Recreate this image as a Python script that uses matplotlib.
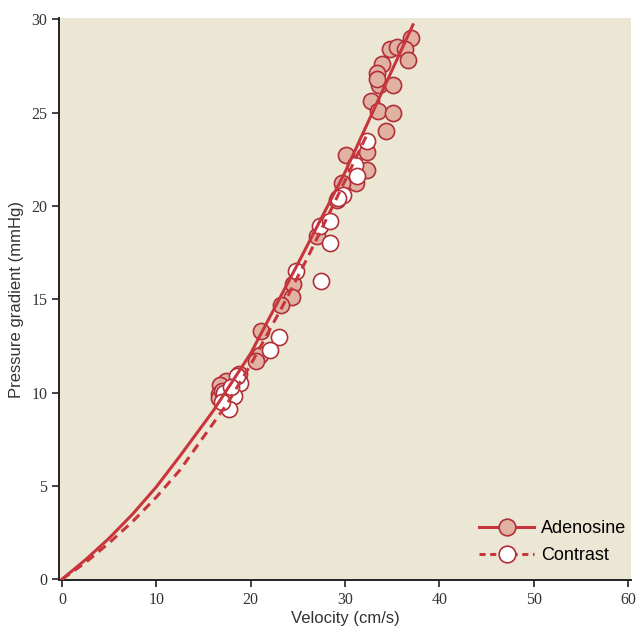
import matplotlib
matplotlib.use("Agg")
import matplotlib.pyplot as plt
from matplotlib.lines import Line2D

# adenosine measurements (velocity cm/s, gradient mmHg)
aden_v = [37.0, 34.8, 35.5, 36.4, 33.9, 33.4, 36.7, 33.6, 35.1, 32.8, 33.5, 35.1,
          34.3, 32.3, 30.1, 32.3, 31.2, 29.7, 29.2, 27.0, 24.5, 24.4, 23.2, 21.1,
          21.0, 20.6, 18.8, 17.4, 16.8, 16.6, 16.6, 33.4, 17.0]
aden_g = [29.0, 28.4, 28.5, 28.4, 27.6, 27.1, 27.8, 26.5, 26.5, 25.6, 25.1, 25.0,
          24.0, 22.9, 22.7, 21.9, 21.2, 21.2, 20.3, 18.4, 15.8, 15.1, 14.7, 13.3,
          12.0, 11.7, 11.0, 10.6, 10.4, 9.9, 9.7, 26.8, 10.1]

# contrast measurements
cont_v = [32.3, 31.1, 31.3, 29.8, 29.3, 27.4, 28.4, 28.4, 27.5, 24.8, 23.0, 22.1,
          18.9, 18.5, 18.2, 17.7, 17.2, 17.0, 17.9]
cont_g = [23.5, 22.2, 21.6, 20.6, 20.4, 18.9, 19.2, 18.0, 16.0, 16.5, 13.0, 12.3,
          10.5, 10.9, 9.8, 9.1, 10.0, 9.5, 10.3]

# fitted curves
fit_aden_v = [0, 2.5, 5, 7.5, 10, 12.5, 16, 20, 25, 30, 33, 37.2]
fit_aden_g = [0, 1.05, 2.2, 3.5, 4.95, 6.6, 9.0, 12.1, 16.9, 21.8, 25.1, 29.7]
fit_cont_v = [0, 2.5, 5, 7.5, 10, 12.5, 17.5, 20, 23.4, 26, 29.0, 32.5]
fit_cont_g = [0, 0.9, 1.95, 3.1, 4.4, 5.85, 9.4, 11.5, 14.65, 17.2, 20.3, 24.0]

line_col = "#c8353c"
edge_col = "#b12f38"
fill_col = "#e1b1a1"
bg_col = "#ece7d4"
label_font = ["Liberation Sans Narrow", "Liberation Sans", "DejaVu Sans"]

fig = plt.figure(figsize=(6.36, 6.30), dpi=100)
ax = fig.add_axes([0.093, 0.079, 0.899, 0.892])
ax.set_facecolor(bg_col)

ax.scatter(aden_v, aden_g, s=135, facecolor=fill_col, edgecolor=edge_col,
           linewidth=1.2, zorder=2)
ax.scatter(cont_v, cont_g, s=135, facecolor="white", edgecolor=edge_col,
           linewidth=1.2, zorder=3)
ax.plot(fit_aden_v, fit_aden_g, color=line_col, lw=2.2, zorder=4)
ax.plot(fit_cont_v, fit_cont_g, color=line_col, lw=2.2, ls=(0, (3, 2)), zorder=4)

ax.set_xlim(-0.3, 60.3)
ax.set_ylim(-0.05, 30.05)
ax.set_xticks(range(0, 61, 10))
ax.set_yticks(range(0, 31, 5))

for s in ["top", "right"]:
    ax.spines[s].set_visible(False)
for s in ["left", "bottom"]:
    ax.spines[s].set_linewidth(1.4)
    ax.spines[s].set_color("#222222")
ax.tick_params(direction="out", length=5, width=1.2, color="#222222",
               labelsize=11.5, labelcolor="#333333")
for lab in ax.get_xticklabels() + ax.get_yticklabels():
    lab.set_family(["Liberation Serif", "DejaVu Serif"])

ax.set_xlabel("Velocity (cm/s)", fontsize=12, color="#333333", labelpad=2,
              family=label_font)
ax.set_ylabel("Pressure gradient (mmHg)", fontsize=12, color="#333333", labelpad=5,
              family=label_font)

handles = [
    Line2D([], [], color=line_col, lw=2.2, marker="o", markersize=12,
           markerfacecolor=fill_col, markeredgecolor=edge_col, markeredgewidth=1.2),
    Line2D([], [], color=line_col, lw=2.2, ls=(0, (2, 1.5)), marker="o", markersize=12,
           markerfacecolor="white", markeredgecolor=edge_col, markeredgewidth=1.2),
]
ax.legend(handles, ["Adenosine", "Contrast"], loc="lower right", frameon=False,
          handlelength=3.0, handletextpad=0.4, labelspacing=0.55,
          bbox_to_anchor=(1.02, 0.0),
          prop={"family": label_font, "size": 13})

fig.savefig("out.png", dpi=100)
